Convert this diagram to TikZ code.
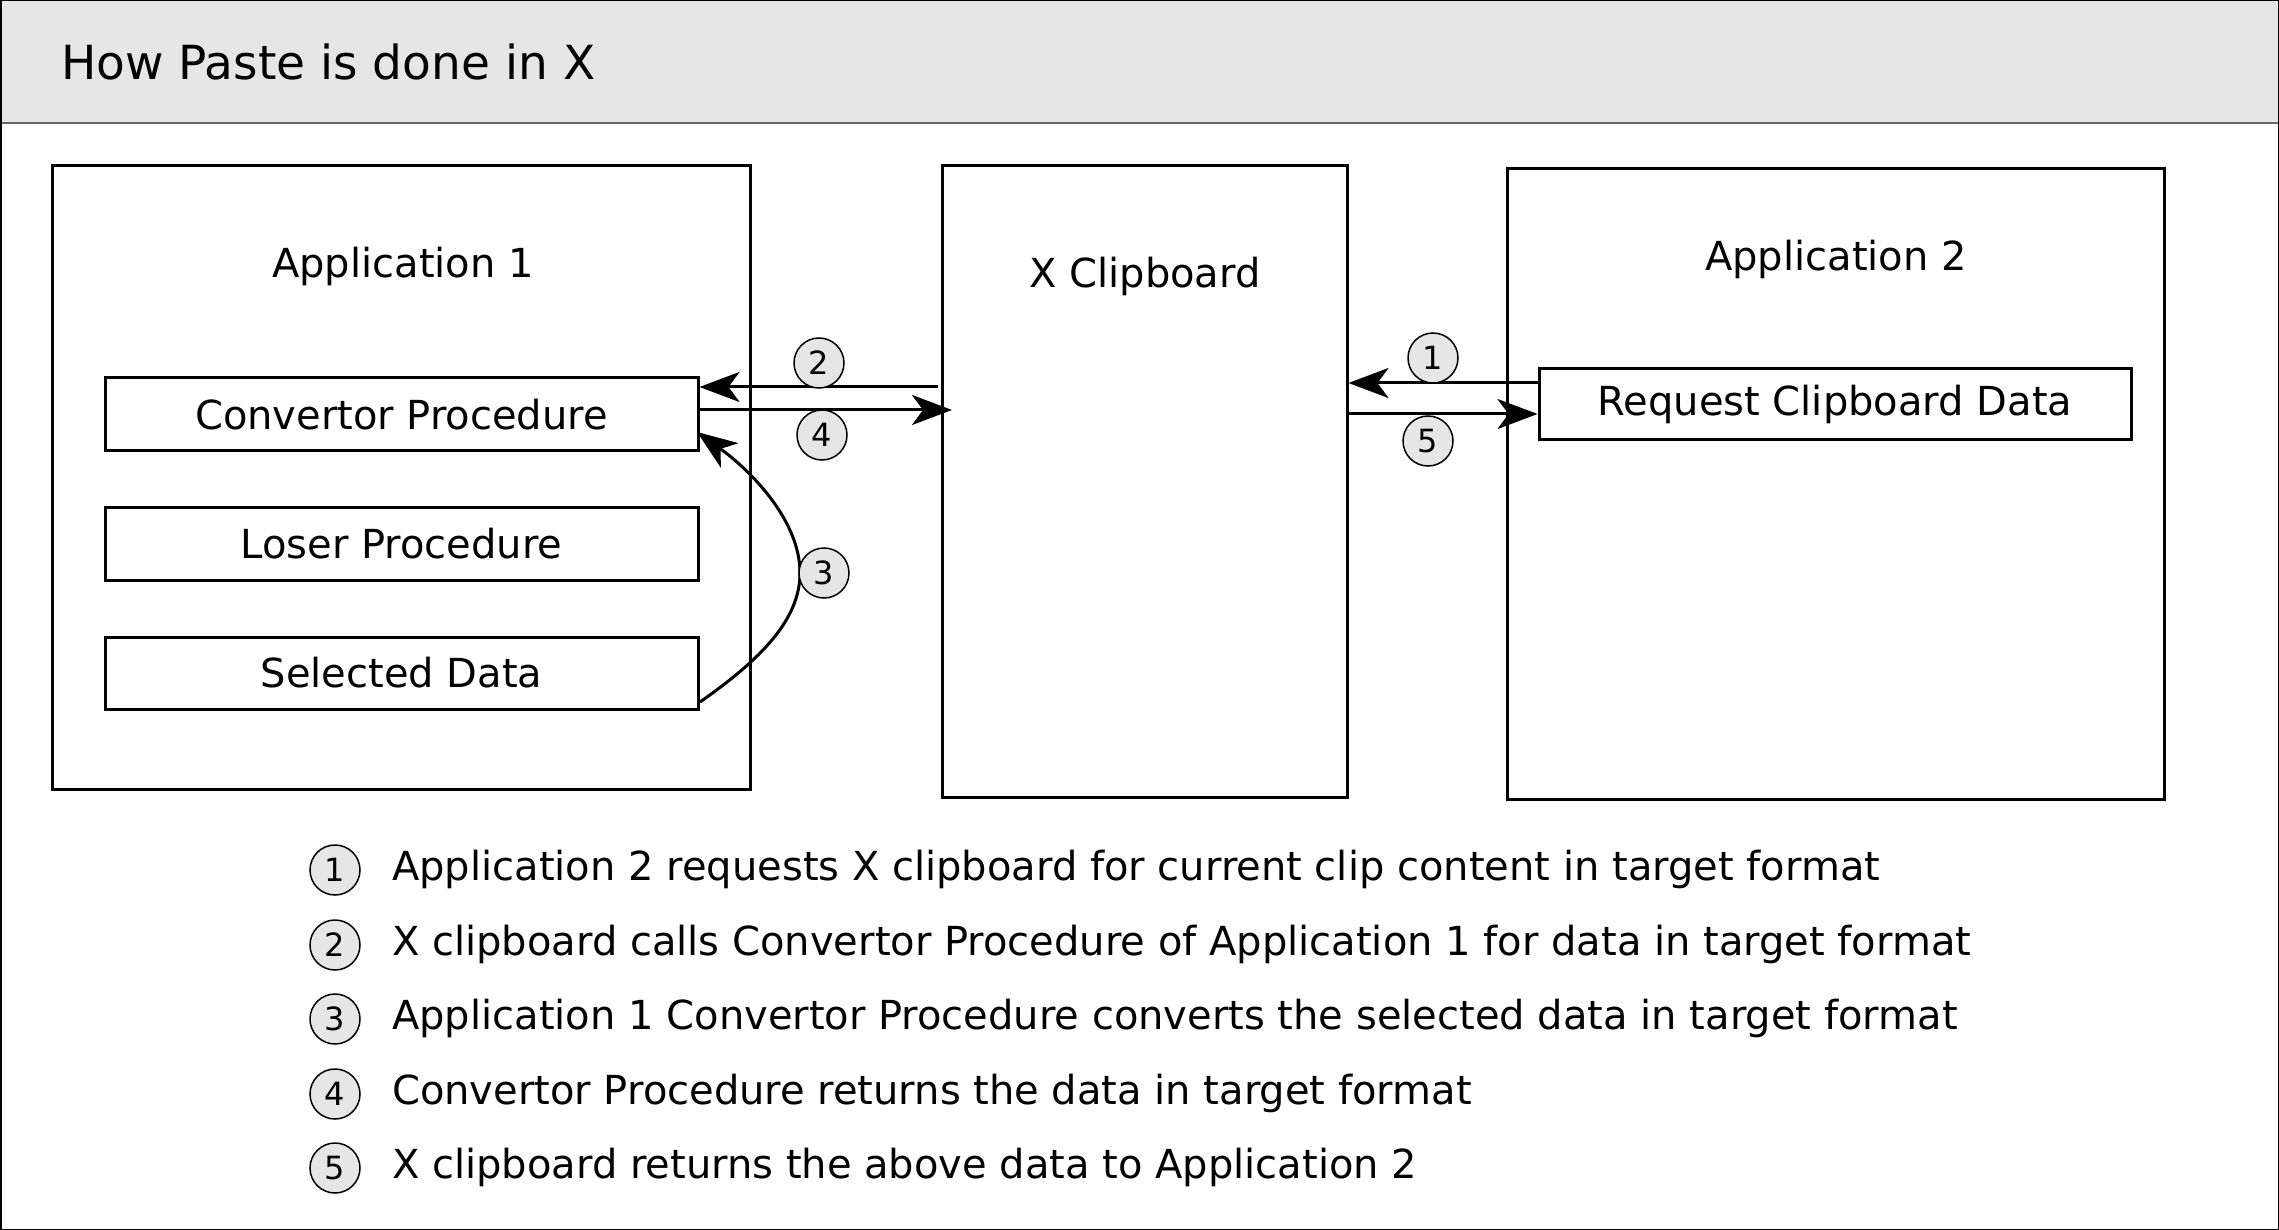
\documentclass[tikz,border=0pt]{standalone}
\usepackage{fontspec}
\setmainfont{DejaVu Sans}
\usetikzlibrary{arrows.meta}
\definecolor{hdr}{HTML}{E6E6E6}
\tikzset{
  box/.style={draw=black, line width=3pt, minimum width=#1, inner sep=0pt},
  lbl/.style={font=\fontsize{40}{48}\selectfont, inner sep=0pt},
  num/.style={circle, draw=black, line width=1.5pt, fill=hdr, minimum size=50pt, inner sep=0pt, font=\fontsize{32}{36}\selectfont},
  arr/.style={line width=3pt, -{Stealth[length=40pt, width=30pt, inset=11pt]}},
}
\begin{document}
\begin{tikzpicture}[x=1pt, y=-1pt]
\useasboundingbox (0,0) rectangle (2279,1230);
% frame and header
\fill[hdr] (0,0) rectangle (2279,123);
\draw[line width=2pt, draw=black!60] (0,123) -- (2279,123);
\draw[line width=3pt] (0,0) rectangle (2279,1230);
\node[anchor=west, font=\fontsize{47}{56}\selectfont, inner sep=0pt] (title) at (61,62) {How Paste is done in X};
% big boxes
\node[box=698pt, minimum height=623pt] (app1) at (401,477.5) {};
\node[box=405pt, minimum height=631pt] (xclip) at (1144.5,481.5) {};
\node[box=657pt, minimum height=630pt] (app2) at (1835.5,484) {};
\node[lbl] (app1t) at (403,266) {Application 1};
\node[lbl] (xclipt) at (1145,276) {X Clipboard};
\node[lbl] (app2t) at (1836,259) {Application 2};
% inner boxes
\node[box=593pt, minimum height=73pt, lbl] (conv) at (401.5,414.5) {Convertor Procedure};
\node[box=593pt, minimum height=73pt, lbl] (loser) at (401.5,543.5) {Loser Procedure};
\node[box=593pt, minimum height=72pt, lbl] (sel) at (401.5,673) {Selected Data};
\node[box=592pt, minimum height=71pt, lbl] (req) at (1835,404.5) {Request Clipboard Data};
% arrows
\coordinate (a2s) at (938,387);
\draw[arr] (a2s) -- (conv.east |- a2s);
\coordinate (a4s) at (700,410);
\draw[arr] (a4s) -- (952,410);
\coordinate (a1s) at (1540,383);
\draw[arr] (a1s) -- (xclip.east |- a1s);
\coordinate (a5s) at (1347,414);
\draw[arr] (a5s) -- (req.west |- a5s);
\coordinate (c3s) at (700,702);
\coordinate (c3m) at (800,573);
\coordinate (c3e) at (697,432);
\draw[arr] (c3s) .. controls (760,660) and (800,620) .. (c3m) .. controls (800,520) and (750,470) .. (c3e);
% number circles
\node[num] (n1) at (1433,358) {1};
\node[num] (n2) at (819,363) {2};
\node[num] (n3) at (824,573) {3};
\node[num] (n4) at (822,435) {4};
\node[num] (n5) at (1428,441) {5};
% legend
\node[num] (l1) at (335,870) {1};
\node[num] (l2) at (335,945) {2};
\node[num] (l3) at (335,1019) {3};
\node[num] (l4) at (335,1094) {4};
\node[num] (l5) at (335,1168) {5};
\node[lbl, anchor=west] (t1) at (392,869) {Application 2 requests X clipboard for current clip content in target format};
\node[lbl, anchor=west] (t2) at (392,944) {X clipboard calls Convertor Procedure of Application 1 for data in target format};
\node[lbl, anchor=west] (t3) at (392,1018) {Application 1 Convertor Procedure converts the selected data in target format};
\node[lbl, anchor=west] (t4) at (392,1093) {Convertor Procedure returns the data in target format};
\node[lbl, anchor=west] (t5) at (392,1167) {X clipboard returns the above data to Application 2};
\end{tikzpicture}
\end{document}
